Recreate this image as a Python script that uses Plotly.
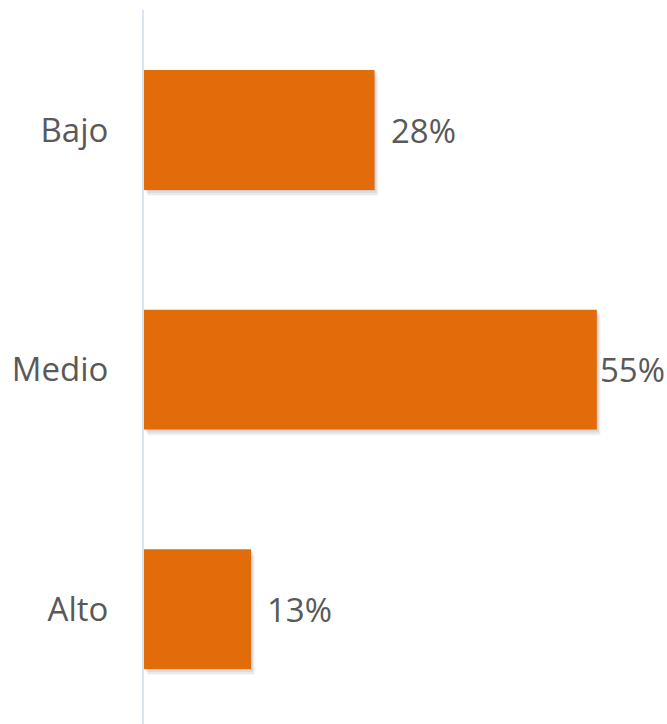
import plotly.graph_objects as go

# Data
categories = ["Bajo", "Medio", "Alto"]
values = [28, 55, 13]
value_labels = ["28%", "55%", "13%"]

# Figure geometry
FIG_W, FIG_H = 667, 724
MARGIN_L, MARGIN_T, MARGIN_B = 144, 10, 0
X_MAX = 60
PX_PER_X = 8.23
PLOT_W = X_MAX * PX_PER_X
MARGIN_R = FIG_W - MARGIN_L - PLOT_W
Y_RANGE = [2.48, -0.501]  # reversed so the first category sits on top
PLOT_H = FIG_H - MARGIN_T - MARGIN_B
PX_PER_Y = PLOT_H / abs(Y_RANGE[0] - Y_RANGE[1])

BAR_COLOR = "#E36C0A"
TEXT_COLOR = "#595959"
FONT = "Open Sans"
FONT_SIZE = 33
BAR_WIDTH = 0.5

fig = go.Figure()

# soft drop shadow built from a few translucent layers under each bar
shadow_layers = [(1, 1, 0.07), (2, 3, 0.06), (3, 5, 0.05), (4, 6, 0.03)]
for dx_px, dy_px, alpha in shadow_layers:
    fig.add_trace(go.Bar(
        y=categories, x=values, orientation="h",
        base=dx_px / PX_PER_X,
        width=BAR_WIDTH,
        offset=-BAR_WIDTH / 2 + dy_px / PX_PER_Y,
        marker=dict(color=f"rgba(0,0,0,{alpha})", line=dict(width=0)),
        hoverinfo="skip", showlegend=False,
    ))

fig.add_trace(go.Bar(
    y=categories, x=values, orientation="h",
    width=BAR_WIDTH,
    offset=-BAR_WIDTH / 2,
    marker=dict(color=BAR_COLOR, line=dict(width=0)),
    showlegend=False,
))

# value labels to the right of each bar, kept inside the figure width
LABEL_GAP = 14
LABEL_W = 66
for cat, v, lab in zip(categories, values, value_labels):
    end_px = MARGIN_L + v * PX_PER_X
    shift = min(LABEL_GAP, FIG_W - 3 - end_px - LABEL_W)
    fig.add_annotation(
        x=v, y=cat, text=lab, showarrow=False,
        xanchor="left", yanchor="middle", xshift=shift,
        font=dict(family=FONT, size=FONT_SIZE, color=TEXT_COLOR),
    )

fig.update_layout(
    width=FIG_W, height=FIG_H,
    margin=dict(l=MARGIN_L, r=MARGIN_R, t=MARGIN_T, b=MARGIN_B, pad=0),
    paper_bgcolor="white", plot_bgcolor="white",
    barmode="overlay",
    font=dict(family=FONT, size=FONT_SIZE, color=TEXT_COLOR),
    xaxis=dict(range=[0, X_MAX], visible=False, showgrid=False, zeroline=False),
    yaxis=dict(
        range=Y_RANGE, type="category",
        categoryorder="array", categoryarray=categories,
        showline=True, linecolor="#D9E4F2", linewidth=2,
        showgrid=False, zeroline=False,
        ticks="", ticklabelstandoff=27,
        tickfont=dict(family=FONT, size=FONT_SIZE, color=TEXT_COLOR),
    ),
)

fig.write_html("out.html")
